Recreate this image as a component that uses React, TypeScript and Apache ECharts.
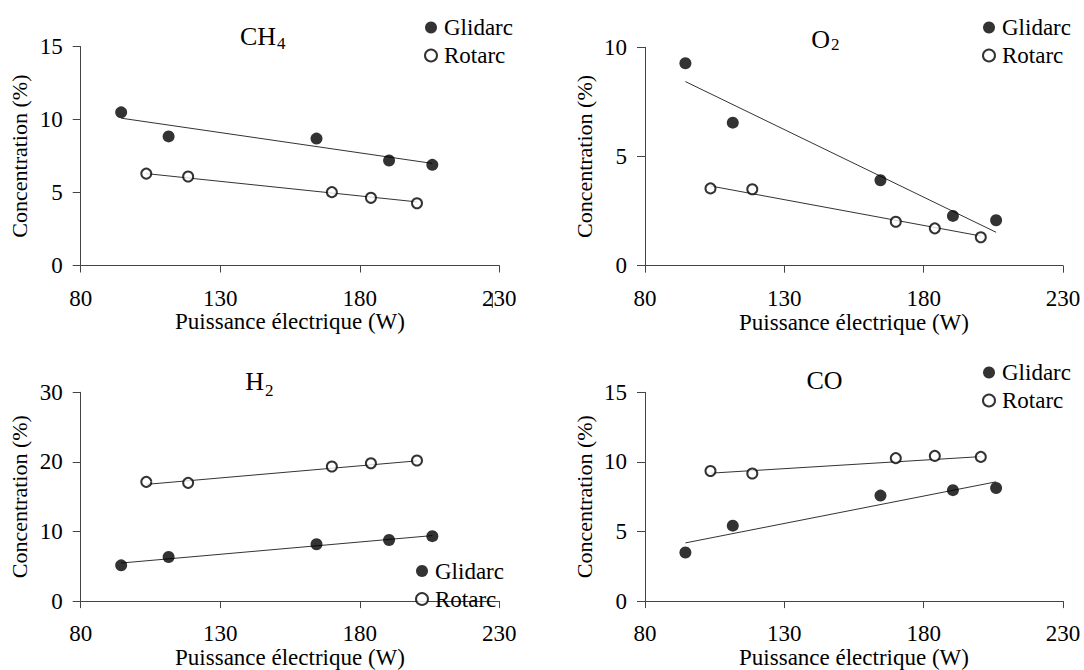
import React, { useEffect, useRef } from "react";
import * as echarts from "echarts";

// ---------- DATA ----------
const xRange = [80, 230];
const xTickStep = 50;

const glidarcPower = [94.5, 111.5, 164.5, 190.5, 206];
const rotarcPower = [103.5, 118.5, 170, 184, 200.5];

const ch4Glidarc = [10.5, 8.85, 8.7, 7.2, 6.9];
const ch4Rotarc = [6.3, 6.1, 5.03, 4.64, 4.27];
const ch4GlidarcTrend = [[94.5, 10.1], [206, 7.0]];
const ch4RotarcTrend = [[103.5, 6.3], [200.5, 4.36]];

const o2Glidarc = [9.27, 6.55, 3.91, 2.28, 2.08];
const o2Rotarc = [3.54, 3.5, 2.01, 1.71, 1.3];
const o2GlidarcTrend = [[94.5, 8.43], [206, 1.53]];
const o2RotarcTrend = [[103.5, 3.65], [200.5, 1.36]];

const h2Glidarc = [5.14, 6.34, 8.17, 8.77, 9.33];
const h2Rotarc = [17.13, 16.99, 19.34, 19.8, 20.21];
const h2GlidarcTrend = [[94.5, 5.47], [206, 9.41]];
const h2RotarcTrend = [[103.5, 16.77], [200.5, 20.15]];

const coGlidarc = [3.49, 5.42, 7.58, 7.97, 8.13];
const coRotarc = [9.35, 9.17, 10.27, 10.43, 10.36];
const coGlidarcTrend = [[94.5, 4.18], [206, 8.57]];
const coRotarcTrend = [[103.5, 9.19], [200.5, 10.38]];

const titleMain = ["CH", "O", "H", "CO"];
const titleSub = ["4", "2", "2", ""];
const yMaxes = [15, 10, 30, 15];
const yIntervals = [5, 5, 10, 5];

const seriesNames = ["Glidarc", "Rotarc"];
const xAxisName = "Puissance électrique (W)";
const yAxisName = "Concentration (%)";

const panelData = [
  { g: ch4Glidarc, r: ch4Rotarc, gt: ch4GlidarcTrend, rt: ch4RotarcTrend },
  { g: o2Glidarc, r: o2Rotarc, gt: o2GlidarcTrend, rt: o2RotarcTrend },
  { g: h2Glidarc, r: h2Rotarc, gt: h2GlidarcTrend, rt: h2RotarcTrend },
  { g: coGlidarc, r: coRotarc, gt: coGlidarcTrend, rt: coRotarcTrend },
];

// ---------- LAYOUT ----------
const FONT = "Liberation Serif";
const grids = [
  { left: 80.7, top: 46.7, width: 418.6, height: 218.8 },
  { left: 645, top: 47.3, width: 418, height: 218.4 },
  { left: 80.7, top: 392.3, width: 418.6, height: 217.7 },
  { left: 645, top: 392.3, width: 418, height: 217.7 },
];
const legendPos = [
  { left: 419, top: 11 },
  { left: 977, top: 11 },
  { left: 410, top: 554.5 },
  { left: 977, top: 356 },
];
const titlePos = [
  { x: 276, y: 36.2, subY: 43.5 },
  { x: 830, y: 39.7, subY: 44.9 },
  { x: 264, y: 381.2, subY: 390.2 },
  { x: 824.5, y: 380.2, subY: 0 },
];

function txt(size: number) {
  return { fontSize: size, color: "#000", fontFamily: FONT };
}

function buildOption() {
  const axisColor = "#444";
  const xAxis: any[] = [];
  const yAxis: any[] = [];
  const series: any[] = [];
  const legend: any[] = [];
  const graphic: any[] = [];

  panelData.forEach((p, i) => {
    xAxis.push({
      gridIndex: i,
      type: "value",
      min: xRange[0],
      max: xRange[1],
      interval: xTickStep,
      axisLine: { show: true, onZero: false, lineStyle: { color: axisColor, width: 1 } },
      axisTick: { show: true, length: 7, lineStyle: { color: axisColor, width: 1 } },
      axisLabel: { margin: 21, ...txt(23) },
      splitLine: { show: false },
      name: xAxisName,
      nameLocation: "middle",
      nameGap: 39,
      nameTextStyle: txt(23),
    });
    yAxis.push({
      gridIndex: i,
      type: "value",
      min: 0,
      max: yMaxes[i],
      interval: yIntervals[i],
      axisLine: { show: true, onZero: false, lineStyle: { color: axisColor, width: 1 } },
      axisTick: { show: true, length: 8, lineStyle: { color: axisColor, width: 1 } },
      axisLabel: { margin: 18, ...txt(23) },
      splitLine: { show: false },
      name: yAxisName,
      nameLocation: "middle",
      nameGap: 50,
      nameTextStyle: txt(22),
    });
    series.push({
      type: "line",
      xAxisIndex: i,
      yAxisIndex: i,
      data: p.gt,
      symbol: "none",
      silent: true,
      lineStyle: { color: "#333", width: 1 },
      z: 1,
    });
    series.push({
      type: "line",
      xAxisIndex: i,
      yAxisIndex: i,
      data: p.rt,
      symbol: "none",
      silent: true,
      lineStyle: { color: "#333", width: 1 },
      z: 1,
    });
    series.push({
      type: "scatter",
      name: seriesNames[0],
      xAxisIndex: i,
      yAxisIndex: i,
      data: glidarcPower.map((x, j) => [x, p.g[j]]),
      symbol: "circle",
      symbolSize: 12,
      itemStyle: { color: "#000" },
      z: 3,
    });
    series.push({
      type: "scatter",
      name: seriesNames[1],
      xAxisIndex: i,
      yAxisIndex: i,
      data: rotarcPower.map((x, j) => [x, p.r[j]]),
      symbol: "circle",
      symbolSize: 10,
      itemStyle: { color: "#fff", borderColor: "#000", borderWidth: 2 },
      z: 3,
    });
    legend.push({
      orient: "vertical",
      left: legendPos[i].left,
      top: legendPos[i].top,
      itemWidth: 16,
      itemHeight: 12,
      itemGap: 5,
      icon: "circle",
      textStyle: txt(23),
      data: [
        { name: seriesNames[0], itemStyle: { color: "#000" } },
        { name: seriesNames[1], itemStyle: { color: "#fff", borderColor: "#000", borderWidth: 2 } },
      ],
    });
    const tp = titlePos[i];
    const base = { fontFamily: FONT, fill: "#000", verticalAlign: "middle", textVerticalAlign: "middle" };
    if (titleSub[i]) {
      graphic.push({
        type: "text",
        x: tp.x,
        y: tp.y,
        style: { ...base, text: titleMain[i], fontSize: 26, align: "right", textAlign: "right" },
      });
      graphic.push({
        type: "text",
        x: tp.x + 1,
        y: tp.subY,
        style: { ...base, text: titleSub[i], fontSize: 17, align: "left", textAlign: "left" },
      });
    } else {
      graphic.push({
        type: "text",
        x: tp.x,
        y: tp.y,
        style: { ...base, text: titleMain[i], fontSize: 26, align: "center", textAlign: "center" },
      });
    }
  });

  // small stray vertical mark through the first panel's "230" label
  graphic.push({
    type: "line",
    shape: { x1: 492.3, y1: 293, x2: 492.3, y2: 308 },
    style: { stroke: "#333", lineWidth: 1 },
  });

  return {
    animation: false,
    backgroundColor: "#fff",
    grid: grids.map((g) => ({ ...g, containLabel: false })),
    xAxis,
    yAxis,
    legend,
    series,
    graphic,
  };
}

export default function App() {
  const ref = useRef<HTMLDivElement>(null);
  useEffect(() => {
    if (!ref.current) return;
    const chart = echarts.init(ref.current, null, { renderer: "svg" });
    chart.setOption(buildOption() as any);
    return () => chart.dispose();
  }, []);
  return (
    <div
      ref={ref}
      style={{ position: "absolute", left: 0, top: 0, width: 1084, height: 670, background: "#fff" }}
    />
  );
}
